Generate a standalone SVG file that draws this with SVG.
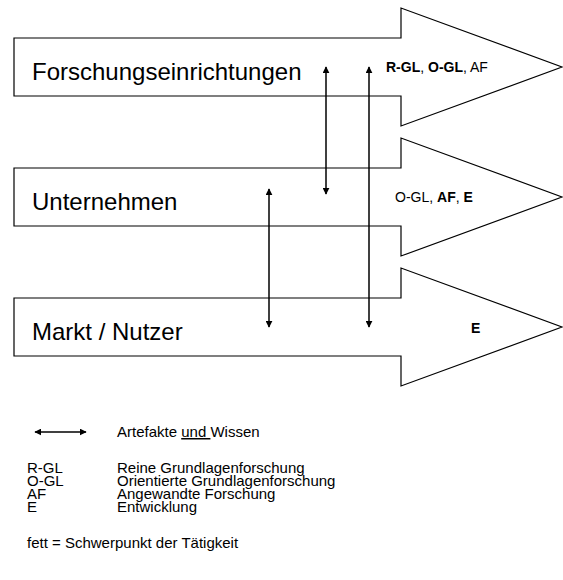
<svg xmlns="http://www.w3.org/2000/svg" width="563" height="580" viewBox="0 0 563 580">
<style>
.band{fill:#fff;stroke:#000;stroke-width:1.2}
.big{font-family:"Liberation Sans",Arial,sans-serif;font-size:24px;fill:#000}
.sm{font-family:"Liberation Sans",Arial,sans-serif;font-size:14px;fill:#000}
.lg{font-family:"Liberation Sans",Arial,sans-serif;font-size:15px;fill:#000}
.b{font-weight:bold}
.conn{stroke:#000;stroke-width:1.5;fill:none;marker-start:url(#ah);marker-end:url(#ah)}
</style>
<defs>
<marker id="ah" viewBox="0 0 10 10" refX="9" refY="5" markerWidth="7" markerHeight="7" orient="auto-start-reverse" markerUnits="userSpaceOnUse"><path d="M0,0 L10,5 L0,10 Z" fill="#000"/></marker>
</defs>
<rect width="563" height="580" fill="#fff"/>
<g id="forschung">
<path class="band" d="M14,38 H401 V8 L562,67 L401,126 V96 H14 Z"/>
<text class="big" x="32" y="80">Forschungseinrichtungen</text>
<text class="sm" x="386" y="72"><tspan class="b">R-GL</tspan>, <tspan class="b">O-GL</tspan>, AF</text>
</g>
<g id="unternehmen">
<path class="band" d="M14,168 H401 V138 L562,197 L401,256 V226 H14 Z"/>
<text class="big" x="32" y="210">Unternehmen</text>
<text class="sm" x="395" y="202">O-GL, <tspan class="b">AF</tspan>, <tspan class="b">E</tspan></text>
</g>
<g id="markt">
<path class="band" d="M14,298 H401 V268 L562,327 L401,386 V356 H14 Z"/>
<text class="big" x="32" y="340">Markt / Nutzer</text>
<text class="sm b" x="471" y="333">E</text>
</g>
<g id="connectors">
<line class="conn" x1="326" y1="67" x2="326" y2="194"/>
<line class="conn" x1="369" y1="67" x2="369" y2="327"/>
<line class="conn" x1="269" y1="189" x2="269" y2="327"/>
</g>
<g id="legend">
<line class="conn" x1="35" y1="432" x2="86" y2="432"/>
<text class="lg" x="117" y="437">Artefakte <tspan text-decoration="underline">und </tspan>Wissen</text>
<text class="lg" x="27" y="473">R-GL</text>
<text class="lg" x="117" y="473">Reine Grundlagenforschung</text>
<text class="lg" x="27" y="486">O-GL</text>
<text class="lg" x="117" y="486">Orientierte Grundlagenforschung</text>
<text class="lg" x="27" y="499">AF</text>
<text class="lg" x="117" y="499">Angewandte Forschung</text>
<text class="lg" x="27" y="512">E</text>
<text class="lg" x="117" y="512">Entwicklung</text>
<text class="lg" x="27" y="548">fett = Schwerpunkt der Tätigkeit</text>
</g>
</svg>
